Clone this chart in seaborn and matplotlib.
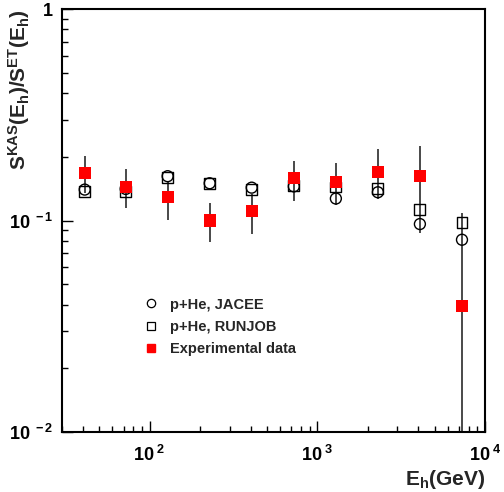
import numpy as np
import pandas as pd
import matplotlib
matplotlib.use("Agg")
import matplotlib.pyplot as plt
import seaborn as sns
from matplotlib.ticker import FixedLocator, LogLocator, NullFormatter, FixedFormatter
from matplotlib.lines import Line2D

# ---- data ----
energy = [41, 72, 128, 228, 406, 724, 1290, 2297, 4090, 7290]
jacee = [0.140, 0.141, 0.162, 0.150, 0.143, 0.145, 0.127, 0.136, 0.0962, 0.0811]
runjob = [0.137, 0.137, 0.160, 0.150, 0.140, 0.146, 0.144, 0.141, 0.113, 0.098]
exp_val = [0.168, 0.144, 0.129, 0.100, 0.111, 0.158, 0.152, 0.170, 0.162, 0.0393]
exp_hi = [0.202, 0.175, 0.153, 0.121, 0.134, 0.192, 0.188, 0.218, 0.226, 0.108]
exp_lo = [0.135, 0.114, 0.101, 0.0788, 0.0866, 0.123, 0.118, 0.126, 0.087, 0.0001]

xticks = [100, 1000, 10000]
xticklabels = [r"$10^{\ 2}$", r"$10^{\ 3}$", r"$10^{\ 4}$"]
yticks = [0.01, 0.1, 1]
yticklabels = [r"$10^{\ -2}$", r"$10^{\ -1}$", r"$1$"]
labels = ["p+He, JACEE", "p+He, RUNJOB", "Experimental data"]

sns.set_theme(style="white")
plt.rcParams["font.family"] = ["Liberation Sans", "DejaVu Sans"]
plt.rcParams["font.weight"] = "bold"
plt.rcParams["mathtext.fontset"] = "custom"
plt.rcParams["mathtext.rm"] = "Liberation Sans:bold"
plt.rcParams["mathtext.it"] = "Liberation Sans:bold"
plt.rcParams["mathtext.bf"] = "Liberation Sans:bold"

fig = plt.figure(figsize=(5.04, 4.92), dpi=100)
ax = fig.add_axes([62 / 504, 1 - 432 / 492, 423 / 504, 423 / 492])
ax.set_xscale("log")
ax.set_yscale("log")

df = pd.DataFrame({"E": energy, "jacee": jacee, "runjob": runjob, "exp": exp_val,
                   "hi": exp_hi, "lo": exp_lo})
yerr = np.array([df["exp"] - df["lo"], df["hi"] - df["exp"]])
ax.errorbar(df["E"], df["exp"], yerr=yerr, fmt="none", ecolor="#3a3a3a",
            elinewidth=1.3, capsize=0, zorder=1)

sns.scatterplot(data=df, x="E", y="jacee", marker="o", s=62, facecolor="none",
                edgecolor="black", linewidth=1.0, ax=ax, zorder=3, legend=False)
sns.scatterplot(data=df, x="E", y="runjob", marker="s", s=62, facecolor="none",
                edgecolor="black", linewidth=1.0, ax=ax, zorder=3, legend=False)
sns.scatterplot(data=df, x="E", y="exp", marker="s", s=75, color="red",
                edgecolor="none", linewidth=0, ax=ax, zorder=4, legend=False)

ax.set_xlim(30, 10000)
ax.set_ylim(0.01, 1)

ax.xaxis.set_major_locator(FixedLocator(xticks))
ax.xaxis.set_major_formatter(FixedFormatter(xticklabels))
ax.yaxis.set_major_locator(FixedLocator(yticks))
ax.yaxis.set_major_formatter(FixedFormatter(yticklabels))
ax.xaxis.set_minor_locator(LogLocator(base=10, subs=np.arange(2, 10)))
ax.yaxis.set_minor_locator(LogLocator(base=10, subs=np.arange(2, 10)))
ax.xaxis.set_minor_formatter(NullFormatter())
ax.yaxis.set_minor_formatter(NullFormatter())

ax.tick_params(which="both", direction="in", bottom=True, left=True, top=False,
               right=False, colors="black", width=1.0)
ax.tick_params(which="major", length=8, labelsize=13)
ax.tick_params(axis="x", which="major", pad=9)
ax.tick_params(axis="y", which="major", pad=6)
ax.tick_params(which="minor", length=4)
for sp in ax.spines.values():
    sp.set_color("black")
    sp.set_linewidth(1.5)

ax.set_xlabel(r"E$_{h}$(GeV)", fontsize=15, fontweight="bold", loc="right")
ax.xaxis.set_label_coords(1.0, -0.085)
ax.set_ylabel(r"S$^{KAS}$(E$_{h}$)/S$^{ET}$(E$_{h}$)", fontsize=15,
              fontweight="bold", loc="top")
ax.yaxis.set_label_coords(-0.07, 1.0)

handles = [
    Line2D([], [], ls="none", marker="o", ms=6, mfc="none", mec="black", mew=0.9),
    Line2D([], [], ls="none", marker="s", ms=6, mfc="none", mec="black", mew=0.9),
    Line2D([], [], ls="none", marker="s", ms=6, mfc="red", mec="red"),
]
ax.legend(handles, labels, loc="upper left", bbox_to_anchor=(0.175, 0.335),
          frameon=False, fontsize=10.5, handlelength=1.0, handletextpad=0.8,
          labelspacing=0.55, borderpad=0)

fig.savefig("out.png", dpi=100)
